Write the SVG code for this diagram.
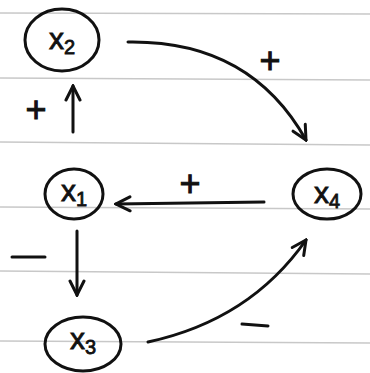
<svg xmlns="http://www.w3.org/2000/svg" width="370" height="373" viewBox="0 0 370 373">
<style>
.rule{stroke:#c8c8c8;stroke-width:1.5}
.node{fill:none;stroke:#111;stroke-width:3}
.lbl{font-family:"Liberation Sans",Arial,sans-serif;font-size:30px;fill:#111;stroke:#111;stroke-width:0.8;text-anchor:middle}
.sub{font-size:20px}
.edge{fill:none;stroke:#111;stroke-width:3;stroke-linecap:round}
.sign{font-family:"Liberation Sans",Arial,sans-serif;font-size:36px;fill:#111;stroke:#111;stroke-width:1;text-anchor:middle}
</style>
<defs>
<marker id="ah2" viewBox="0 0 20 20" refX="18" refY="10" markerWidth="20" markerHeight="20" orient="auto" markerUnits="userSpaceOnUse">
<path d="M4,3 L18,10 L4,17" fill="none" stroke="#111" stroke-width="3" stroke-linecap="round"/>
</marker>
</defs>
<rect width="370" height="373" fill="#fff"/>
<g id="rules">
<line class="rule" x1="0" y1="13" x2="370" y2="14"/>
<line class="rule" x1="0" y1="78" x2="370" y2="80"/>
<line class="rule" x1="0" y1="142" x2="370" y2="145"/>
<line class="rule" x1="0" y1="207" x2="370" y2="209"/>
<line class="rule" x1="0" y1="271" x2="370" y2="274"/>
<line class="rule" x1="0" y1="341" x2="370" y2="343"/>
</g>
<g id="connectors">
<path class="edge" d="M128,42 Q250,40 306,140" marker-end="url(#ah2)"/>
<path class="edge" d="M73,132 L73,86" marker-end="url(#ah2)"/>
<path class="edge" d="M264,202 L116,204" marker-end="url(#ah2)"/>
<path class="edge" d="M77,231 L77,295" marker-end="url(#ah2)"/>
<path class="edge" d="M148,342 Q250,320 306,240" marker-end="url(#ah2)"/>
<text class="sign" x="270" y="73">+</text>
<text class="sign" x="36" y="122">+</text>
<text class="sign" x="190" y="196">+</text>
<line class="edge" x1="12" y1="257" x2="45" y2="257" stroke-width="4"/>
<line class="edge" x1="242" y1="324" x2="268" y2="326" stroke-width="4"/>
</g>
<g id="x2">
<ellipse class="node" cx="62" cy="40" rx="37" ry="31"/>
<text class="lbl" x="62" y="49">x<tspan class="sub" dy="5">2</tspan></text>
</g>
<g id="x1">
<ellipse class="node" cx="74" cy="194" rx="29" ry="25"/>
<text class="lbl" x="74" y="201">x<tspan class="sub" dy="5">1</tspan></text>
</g>
<g id="x4">
<ellipse class="node" cx="327" cy="194" rx="34" ry="25"/>
<text class="lbl" x="327" y="203">x<tspan class="sub" dy="5">4</tspan></text>
</g>
<g id="x3">
<ellipse class="node" cx="83" cy="344" rx="38" ry="27"/>
<text class="lbl" x="83" y="349">x<tspan class="sub" dy="5">3</tspan></text>
</g>
</svg>
